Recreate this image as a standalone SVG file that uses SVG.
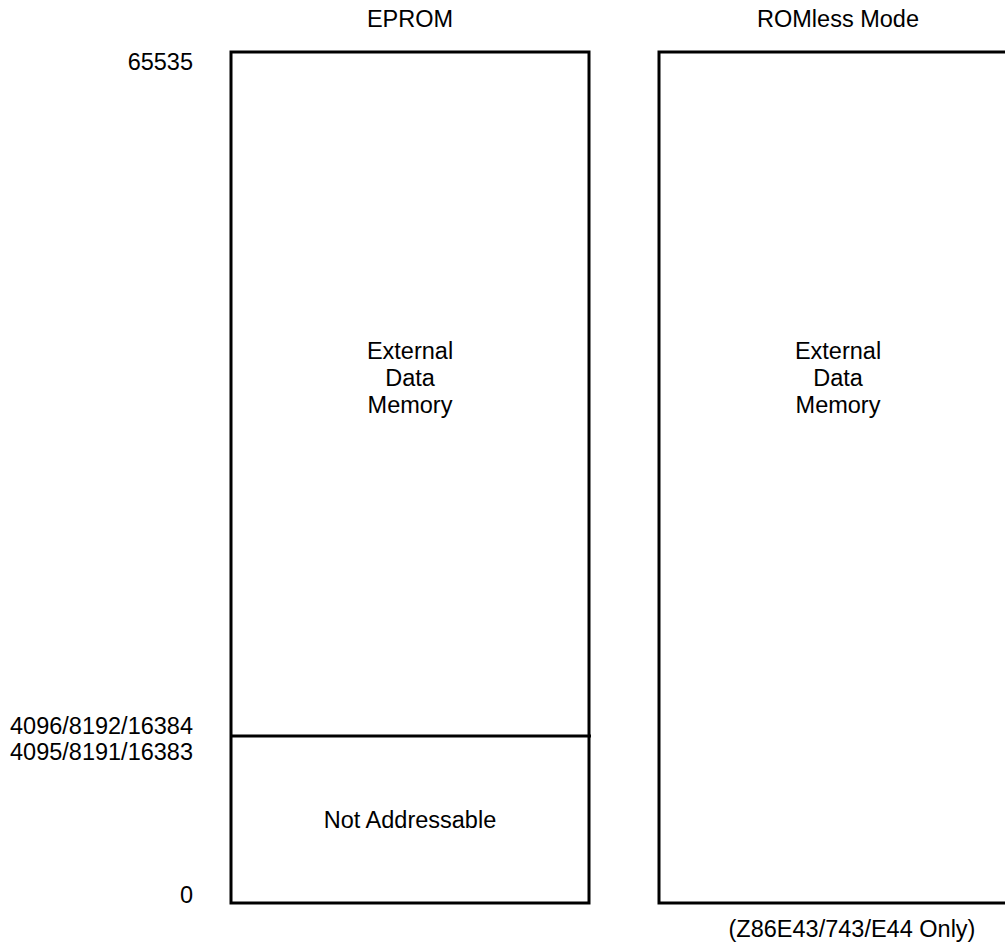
<svg xmlns="http://www.w3.org/2000/svg" width="1005" height="946" viewBox="0 0 1005 946">
<style>
text { font-family: "Liberation Sans", Arial, sans-serif; font-size: 23.5px; fill: #000; }
.box { fill: none; stroke: #000; stroke-width: 3; }
.r { text-anchor: end; }
.c { text-anchor: middle; }
</style>
<rect width="1005" height="946" fill="#fff"/>
<g id="labels">
<text class="c" x="410" y="27">EPROM</text>
<text class="c" x="838" y="27">ROMless Mode</text>
<text class="r" x="193" y="70">65535</text>
<text class="r" x="193" y="734">4096/8192/16384</text>
<text class="r" x="193" y="760">4095/8191/16383</text>
<text class="r" x="193" y="903">0</text>
<text class="c" x="852" y="937">(Z86E43/743/E44 Only)</text>
</g>
<g id="eprom">
<rect class="box" x="231" y="52" width="358" height="851"/>
<text class="c" x="410" y="359">External</text>
<text class="c" x="410" y="386">Data</text>
<text class="c" x="410" y="413">Memory</text>
</g>
<g id="not-addressable">
<text class="c" x="410" y="828">Not Addressable</text>
</g>
<g id="romless">
<rect class="box" x="659" y="52" width="358" height="851"/>
<text class="c" x="838" y="359">External</text>
<text class="c" x="838" y="386">Data</text>
<text class="c" x="838" y="413">Memory</text>
</g>
<g id="connectors">
<line x1="231" y1="736" x2="591" y2="736" stroke="#000" stroke-width="3"/>
</g>
</svg>
